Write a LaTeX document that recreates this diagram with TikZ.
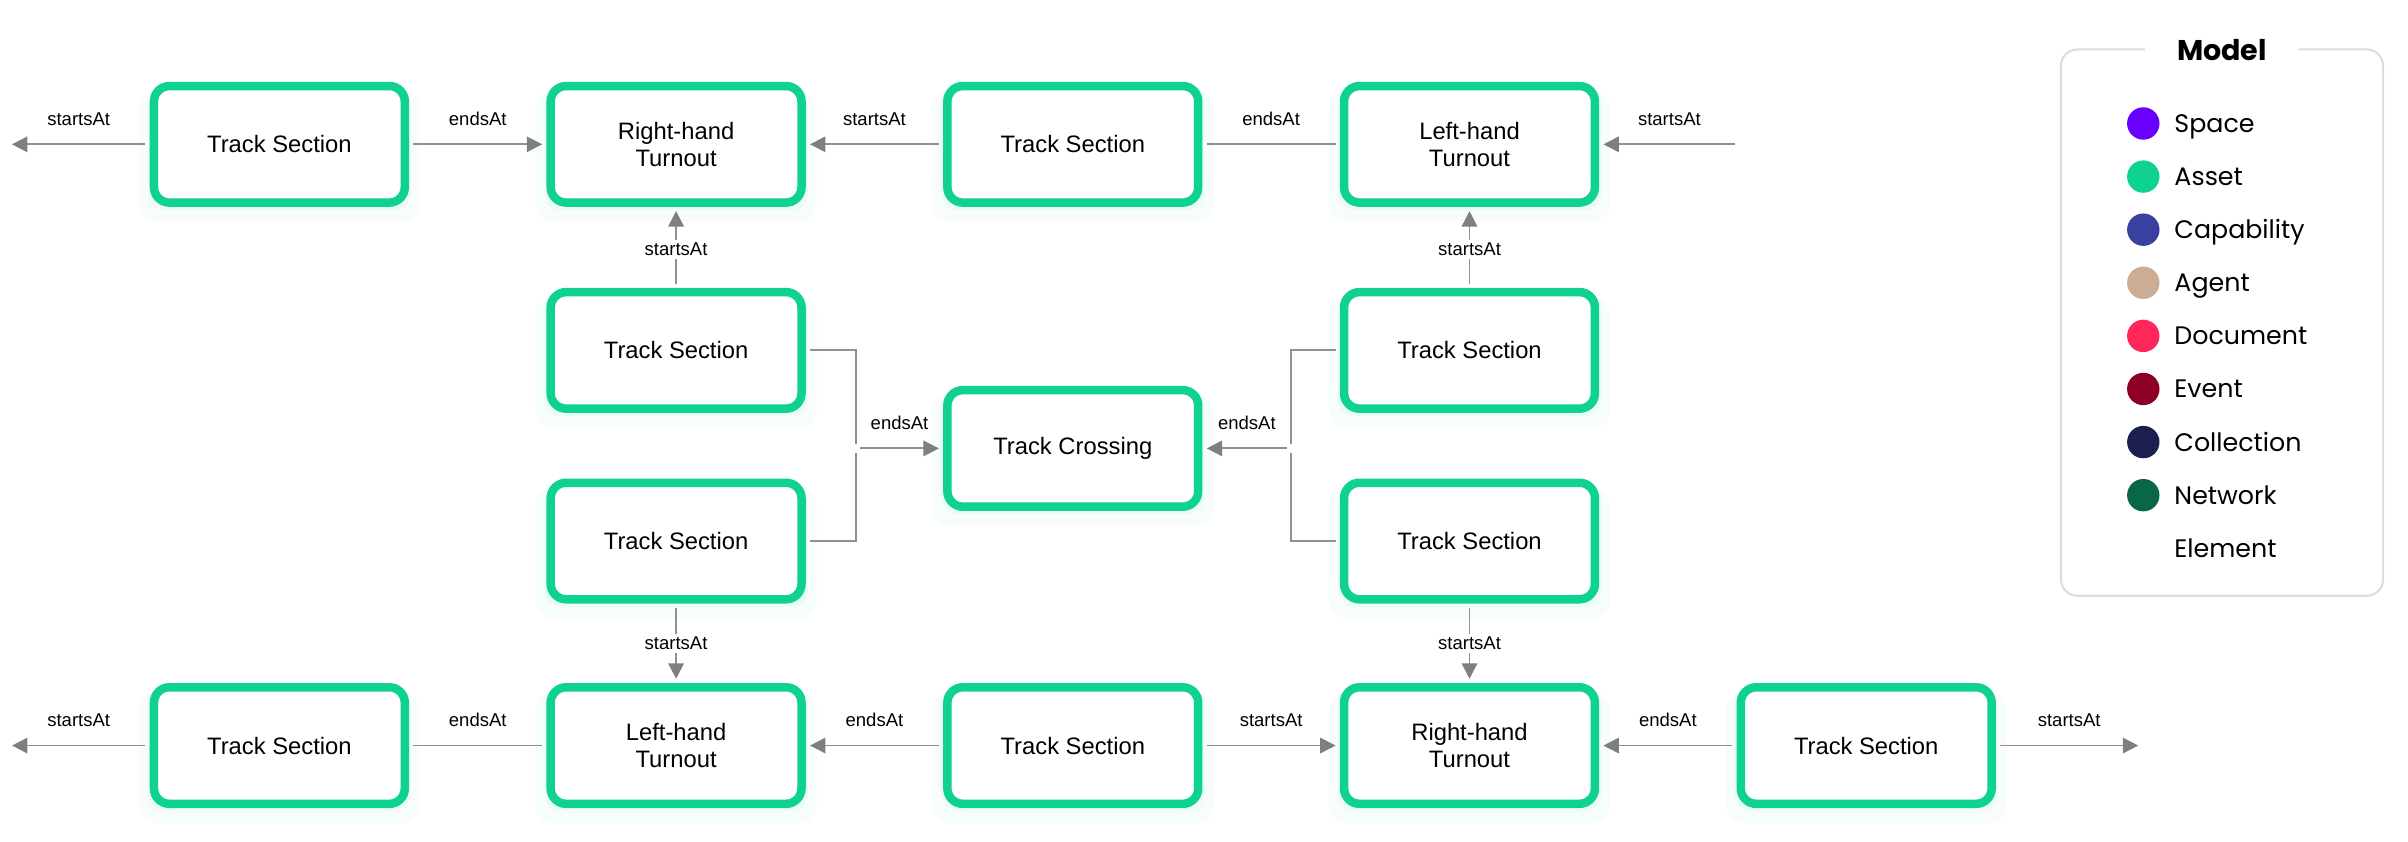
\documentclass[tikz,border=0pt]{standalone}
\usepackage{fontspec}
\setmainfont{Liberation Sans}
\newfontfamily\legendfont{Poppins}
\usetikzlibrary{arrows.meta,shadows}
\definecolor{asset}{RGB}{15,209,145}
\definecolor{space}{RGB}{105,0,255}
\definecolor{capability}{RGB}{57,64,160}
\definecolor{agent}{RGB}{203,172,148}
\definecolor{document}{RGB}{255,38,92}
\definecolor{event}{RGB}{142,0,38}
\definecolor{collection}{RGB}{27,31,80}
\definecolor{network}{RGB}{10,102,72}
\definecolor{edgegray}{RGB}{145,145,145}
\definecolor{tipgray}{RGB}{125,128,128}
\definecolor{framegray}{RGB}{220,220,220}
\begin{document}
\begin{tikzpicture}[x=1pt,y=-1pt,
  box/.style={draw=asset, line width=5.5pt, rounded corners=10pt, fill=white,
    minimum width=162.5pt, minimum height=75.5pt, align=center, inner sep=0pt,
    font=\fontsize{15.4}{17.5}\selectfont,
    general shadow={fill=asset, opacity=0.035, shadow yshift=-7pt, shadow scale=1.12},
    general shadow={fill=asset, opacity=0.045, shadow yshift=-3pt, shadow scale=1.05}},
  conn/.style={draw=edgegray, line width=1.2pt, shorten <=2.75pt, shorten >=2.75pt},
  arr/.style={conn, -{Triangle[length=10pt,width=10pt,color=tipgray,fill=tipgray]}},
  lab/.style={font=\fontsize{12}{14}\selectfont, inner sep=0pt},
  vlab/.style={lab, fill=white, inner ysep=2pt, inner xsep=1pt},
  dot/.style={circle, inner sep=0pt, minimum size=21pt},
  item/.style={anchor=base west, inner sep=0pt, font=\legendfont\fontsize{16.4}{20}\selectfont}
]
\useasboundingbox (0,0) rectangle (1560,545);

% ---- nodes
\node[box] (TS1)  at (181,93.5) {Track Section};
\node[box] (RHT1) at (438,93.5) {Right-hand\\Turnout};
\node[box] (TS2)  at (695,93.5) {Track Section};
\node[box] (LHT1) at (952,93.5) {Left-hand\\Turnout};
\node[box] (TS3)  at (438,227) {Track Section};
\node[box] (TS4)  at (952,227) {Track Section};
\node[box] (TC)   at (695,290.5) {Track Crossing};
\node[box] (TS5)  at (438,350.5) {Track Section};
\node[box] (TS6)  at (952,350.5) {Track Section};
\node[box] (TS7)  at (181,483) {Track Section};
\node[box] (LHT2) at (438,483) {Left-hand\\Turnout};
\node[box] (TS8)  at (695,483) {Track Section};
\node[box] (RHT2) at (952,483) {Right-hand\\Turnout};
\node[box] (TS9)  at (1209,483) {Track Section};

\coordinate (f1) at (5,93.5);
\coordinate (f2) at (1127,93.5);
\coordinate (f3) at (5,483);
\coordinate (f4) at (1388,483);
\coordinate (jl) at (554.5,290.5);
\coordinate (jr) at (836.5,290.5);

% ---- top row
\draw[arr] (TS1.west) -- node[lab,above=11.5pt]{startsAt} (f1);
\draw[arr] (TS1.east) -- node[lab,above=11.5pt]{endsAt} (RHT1.west);
\draw[arr] (TS2.west) -- node[lab,above=11.5pt]{startsAt} (RHT1.east);
\draw[conn] (TS2.east) -- node[lab,above=11.5pt]{endsAt} (LHT1.west);
\draw[arr] (f2) -- node[lab,above=11.5pt]{startsAt} (LHT1.east);

% ---- verticals
\draw[arr] (TS3.north) -- node[vlab,yshift=-1.5pt]{startsAt} (RHT1.south);
\draw[arr] (TS4.north) -- node[vlab,yshift=-1.5pt]{startsAt} (LHT1.south);
\draw[arr] (TS5.south) -- node[vlab]{startsAt} (LHT2.north);
\draw[arr] (TS6.south) -- node[vlab]{startsAt} (RHT2.north);

% ---- crossing
\draw[conn] (TS3.east) -| (jl);
\draw[conn] (TS5.east) -| (jl);
\draw[arr] (jl) -- node[lab,above=11.5pt]{endsAt} (TC.west);
\draw[conn] (TS4.west) -| (jr);
\draw[conn] (TS6.west) -| (jr);
\draw[arr] (jr) -- node[lab,above=11.5pt]{endsAt} (TC.east);

% ---- bottom row
\draw[arr] (TS7.west) -- node[lab,above=11.5pt]{startsAt} (f3);
\draw[conn] (TS7.east) -- node[lab,above=11.5pt]{endsAt} (LHT2.west);
\draw[arr] (TS8.west) -- node[lab,above=11.5pt]{endsAt} (LHT2.east);
\draw[arr] (TS8.east) -- node[lab,above=11.5pt]{startsAt} (RHT2.west);
\draw[arr] (TS9.west) -- node[lab,above=11.5pt]{endsAt} (RHT2.east);
\draw[arr] (TS9.east) -- node[lab,above=11.5pt]{startsAt} (f4);

% ---- legend
\node[draw=framegray, line width=1.3pt, rounded corners=10.5pt, minimum width=208.6pt,
      minimum height=353.9pt, inner sep=0pt] (legend) at (1439.5,209) {};
\node[fill=white, inner xsep=20.5pt, inner ysep=2pt, font=\legendfont\bfseries\fontsize{18.5}{20}\selectfont]
      (title) at (1439.5,32.5) {Model};
\foreach \nm/\col [count=\i from 0] in {Space/space,Asset/asset,Capability/capability,Agent/agent,Document/document,Event/event,Collection/collection,Network/network}{
  \node[dot, fill=\col] (d\nm) at (1388.5,{80+34.4*\i}) {};
  \node[item] (t\nm) at (1408.5,{85.8+34.4*\i}) {\nm};
}
\node[item] (tElement) at (1408.5,{85.8+34.4*8}) {Element};
\end{tikzpicture}
\end{document}
